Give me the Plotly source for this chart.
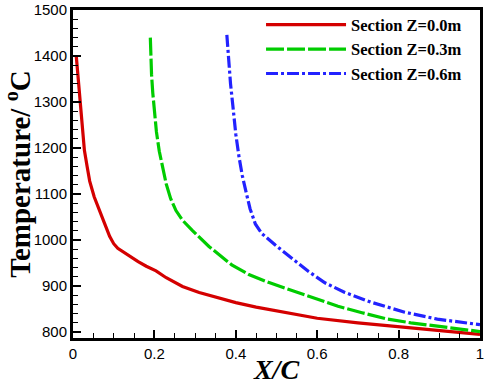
import plotly.graph_objects as go

# Section Z=0.0m
x_z00 = [0.008, 0.010, 0.013, 0.017, 0.022, 0.028, 0.035, 0.041, 0.052, 0.066, 0.078, 0.090, 0.100, 0.110,
         0.120, 0.139, 0.160, 0.180, 0.204, 0.229, 0.269, 0.310, 0.350, 0.400, 0.450, 0.520, 0.600, 0.700,
         0.805, 0.900, 1.000]
t_z00 = [1400, 1380, 1340, 1290, 1243, 1195, 1158, 1128, 1094, 1064, 1035, 1008, 992, 982,
         976, 964, 953, 943, 933, 918, 899, 886, 876, 864, 854, 843, 830, 820,
         811, 803, 795]

# Section Z=0.3m
x_z03 = [0.190, 0.191, 0.193, 0.196, 0.200, 0.205, 0.212, 0.220, 0.229, 0.240, 0.253, 0.269, 0.293, 0.334,
         0.390, 0.432, 0.480, 0.529, 0.590, 0.651, 0.710, 0.773, 0.830, 0.895, 0.950, 1.000]
t_z03 = [1440, 1400, 1360, 1320, 1280, 1235, 1193, 1160, 1122, 1090, 1064, 1043, 1021, 986,
         946, 925, 908, 893, 874, 856, 842, 828, 820, 813, 807, 801]

# Section Z=0.6m
x_z06 = [0.378, 0.382, 0.387, 0.393, 0.400, 0.408, 0.416, 0.425, 0.435, 0.448, 0.464, 0.497, 0.537, 0.578,
         0.619, 0.668, 0.732, 0.815, 0.895, 1.000]
t_z06 = [1446, 1390, 1340, 1290, 1230, 1180, 1140, 1105, 1068, 1035, 1014, 989, 961, 932,
         907, 886, 865, 843, 828, 816]

names = ["Section Z=0.0m", "Section Z=0.3m", "Section Z=0.6m"]
colors = ["#d40000", "#00cc00", "#2222ff"]
dashes = ["solid", "18px,3px", "12px,3px,3px,3px"]

fig = go.Figure()
for xs, ts, nm, c, d in zip([x_z00, x_z03, x_z06], [t_z00, t_z03, t_z06], names, colors, dashes):
    fig.add_trace(go.Scatter(x=xs, y=ts, mode="lines", name="<b>" + nm + "</b>",
                             line=dict(color=c, width=3.2, dash=d)))

axis_common = dict(
    showline=True, linecolor="black", linewidth=3, mirror=True,
    ticks="inside", tickcolor="black", tickwidth=1.5, ticklen=8,
    showgrid=False, zeroline=False, ticklabeloverflow="allow",
    tickfont=dict(family="Liberation Sans, Arial", size=15, color="black"),
)

fig.update_layout(
    width=485, height=385,
    margin=dict(l=73, r=1, t=7, b=46),
    plot_bgcolor="white", paper_bgcolor="white",
    xaxis=dict(range=[0, 1], tickvals=[0, 0.2, 0.4, 0.6, 0.8, 1.0],
               ticktext=["0", "0.2", "0.4", "0.6", "0.8", "1"],
               minor=dict(dtick=0.05, ticks="inside", ticklen=5, tickcolor="black", tickwidth=1.2),
               title=dict(text="<b><i>X/C</i></b>", standoff=2,
                          font=dict(family="Liberation Serif, Times New Roman", size=28, color="black")),
               **axis_common),
    yaxis=dict(range=[787, 1500], tickvals=[800, 900, 1000, 1100, 1200, 1300, 1400, 1500],
               minor=dict(dtick=20, ticks="inside", ticklen=5, tickcolor="black", tickwidth=1.2),
               title=dict(text="<b>Temperature/ <sup>o</sup>C</b>", standoff=4,
                          font=dict(family="Liberation Serif, Times New Roman", size=29, color="black")),
               **axis_common),
    legend=dict(x=0.462, y=1.008, xanchor="left", yanchor="top",
                bgcolor="rgba(255,255,255,0)", borderwidth=0,
                itemwidth=80, tracegroupgap=0,
                font=dict(family="Liberation Serif, Times New Roman", size=16.5, color="black")),
    showlegend=True,
)

fig.write_html("out.html")
